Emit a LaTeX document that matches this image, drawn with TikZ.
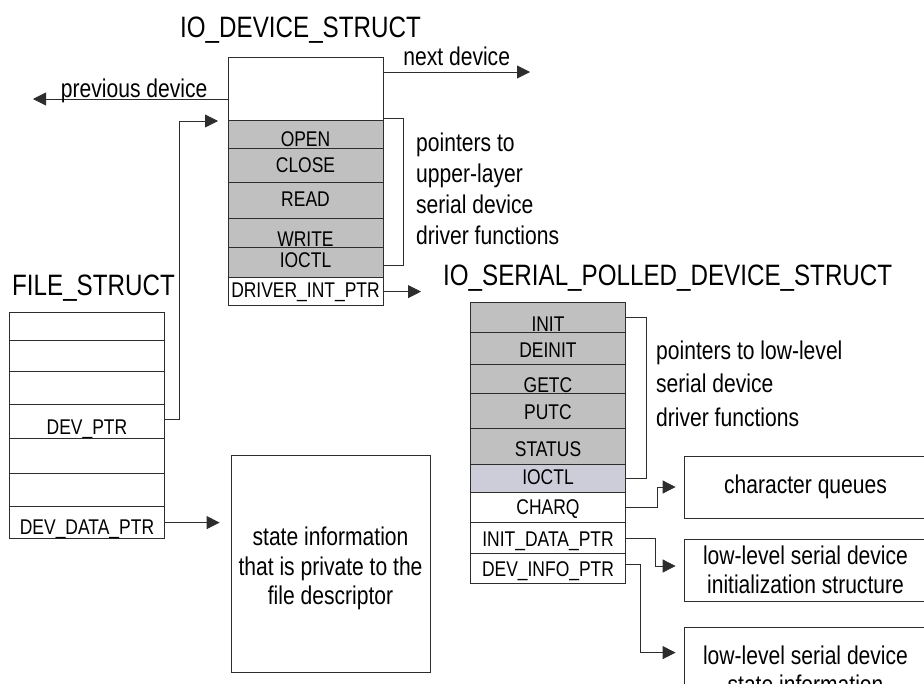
\documentclass[tikz,border=0pt]{standalone}
\usepackage{fontspec}
\setmainfont{Liberation Sans}[FakeStretch=0.82]
\usetikzlibrary{arrows.meta}
\definecolor{cellgray}{RGB}{192,192,192}
\definecolor{cellblue}{RGB}{205,205,218}
\definecolor{linegray}{RGB}{45,45,45}
\newcommand\titlefont{\fontsize{29.5}{36}\selectfont}
\newcommand\fieldfont{\fontsize{21.3}{25}\selectfont}
\newcommand\notefont{\fontsize{25.7}{31}\selectfont}
\newcommand\boxfont{\fontsize{25.7}{29.5}\selectfont}
\tikzset{
  cell/.style={draw=linegray, line width=0.8pt, inner sep=0pt, minimum width=155pt, anchor=south, font=\fieldfont},
  hd/.style 2 args={text height=#1pt, text depth=#2pt},
  box/.style={draw=linegray, line width=0.8pt, inner sep=0pt, align=center, font=\boxfont},
  note/.style={inner sep=0pt, align=left, anchor=base west},
  ttl/.style={inner sep=0pt, anchor=base west, font=\titlefont},
  ptr/.style={->, draw=linegray, line width=0.8pt},
  brk/.style={draw=linegray, line width=0.8pt},
}
\begin{document}
\begin{tikzpicture}[x=1pt, y=-1pt, >={Triangle[length=13pt,width=13pt]}]
    \clip (0,0) rectangle (924,683);
    % IO_DEVICE_STRUCT
    \node[ttl] (devtitle) at (180,37) {IO\_DEVICE\_STRUCT};
    \node[cell, hd={63}{0}] (devtop) at (305.5,121) {};
    \node[cell, hd={26}{2}, fill=cellgray] (open) at (305.5,149) {OPEN};
    \node[cell, hd={24}{10}, fill=cellgray] (close) at (305.5,183) {CLOSE};
    \node[cell, hd={24}{12}, fill=cellgray] (read) at (305.5,219) {READ};
    \node[cell, hd={28}{1}, fill=cellgray] (write) at (305.5,248) {WRITE};
    \node[cell, hd={20}{10}, fill=cellgray] (dioctl) at (305.5,278) {IOCTL};
    \node[cell, hd={20}{8}] (drvptr) at (305.5,306) {DRIVER\_INT\_PTR};
    \node[note, font=\notefont] (upper) at (416,244) {pointers to\\upper-layer\\serial device\\driver functions};
    % FILE_STRUCT
    \node[ttl] (filetitle) at (12,295) {FILE\_STRUCT};
    \node[cell, hd={28}{0}] (f1) at (87,341) {};
    \node[cell, hd={31}{0}] (f2) at (87,372) {};
    \node[cell, hd={33}{0}] (f3) at (87,405) {};
    \node[cell, hd={30}{4}] (devptr) at (87,439) {DEV\_PTR};
    \node[cell, hd={35}{0}] (f5) at (87,474) {};
    \node[cell, hd={33}{0}] (f6) at (87,507) {};
    \node[cell, hd={28}{4}] (devdata) at (87,539) {DEV\_DATA\_PTR};
    \node[box, minimum width=199pt, minimum height=217pt] (state) at (330.5,563.5) {};
    \node[align=center, inner sep=0pt, font=\boxfont] (statetext) at ([yshift=-5pt]state.center)
        {state information\\that is private to the\\file descriptor};
    % IO_SERIAL_POLLED_DEVICE_STRUCT
    \node[ttl] (sertitle) at (443,285) {IO\_SERIAL\_POLLED\_DEVICE\_STRUCT};
    \node[cell, hd={29}{1}, fill=cellgray] (init) at (548,333) {INIT};
    \node[cell, hd={25}{7}, fill=cellgray] (deinit) at (548,365) {DEINIT};
    \node[cell, hd={28}{1}, fill=cellgray] (getc) at (548,394) {GETC};
    \node[cell, hd={26}{9}, fill=cellgray] (putc) at (548,429) {PUTC};
    \node[cell, hd={28}{8}, fill=cellgray] (status) at (548,465) {STATUS};
    \node[cell, hd={20}{8}, fill=cellblue] (sioctl) at (548,493) {IOCTL};
    \node[cell, hd={22}{8}] (charq) at (548,523) {CHARQ};
    \node[cell, hd={24}{7}] (initdata) at (548,554) {INIT\_DATA\_PTR};
    \node[cell, hd={23}{7}] (devinfo) at (548,584) {DEV\_INFO\_PTR};
    \node[note, font=\fontsize{25.7}{33.5}\selectfont] (lower) at (656,426) {pointers to low-level\\serial device\\driver functions};
    \node[box, minimum width=243pt, minimum height=62pt] (queues) at (805.5,487) {character queues};
    \node[box, minimum width=243pt, minimum height=62pt] (initbox) at (805.5,570)
        {low-level serial device\\initialization structure};
    \node[box, minimum width=243pt, minimum height=86pt] (sinfo) at (805.5,670)
        {low-level serial device\\state information};
    % free ends
    \coordinate (prevend) at (33,99);
    \coordinate (nextend) at (530,72);
    \coordinate (devin) at (218,121);
    \coordinate (drvend) at (421,292);
    % links
    \draw[ptr] (devtop.west |- prevend) -- node[pos=0.48, anchor=base, yshift=2pt, inner sep=0pt, font=\notefont] {previous device} (prevend);
    \draw[ptr] (devtop.east |- nextend) -- node[anchor=base, yshift=7pt, inner sep=0pt, font=\notefont] {next device} (nextend);
    \draw[ptr] ([yshift=2pt]devptr.east) -- ++(14,0) |- (devin);
    \draw[ptr, shorten >=11pt] (devdata.east) -- (state.west |- devdata.east);
    \draw[ptr] (drvptr.east) -- (drvend |- drvptr.east);
    \draw[brk] ([yshift=2pt]open.north east) -- ++(20,0) |- ([yshift=-3pt]dioctl.east);
    \draw[brk] (init.east) -- ++(20,0) |- (sioctl.east);
    \draw[ptr, shorten >=8pt] (charq.east) -- ++(31,0) |- (queues.west);
    \draw[ptr, shorten >=8pt] (initdata.east) -- ++(29,0) |- ([yshift=4pt]initbox.west);
    \draw[ptr, shorten >=8pt] ([yshift=4pt]devinfo.east) -- ++(14,0) |- ([yshift=-26pt]sinfo.north west);
\end{tikzpicture}
\end{document}
